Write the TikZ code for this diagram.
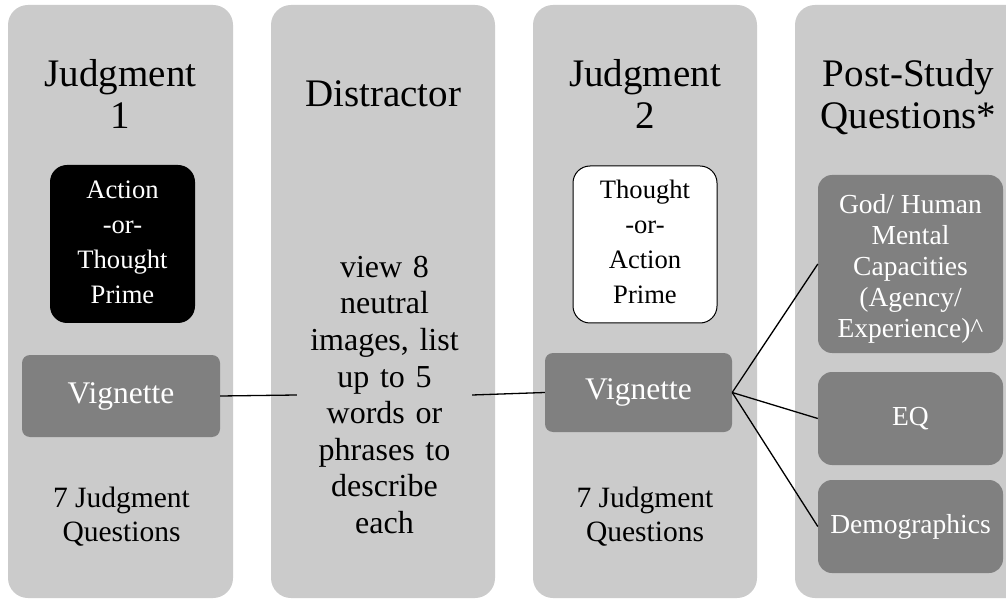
\documentclass[tikz,border=0pt]{standalone}
\usepackage{fontspec}
\setmainfont{Liberation Serif}
\definecolor{colbg}{HTML}{CBCBCB}
\definecolor{boxgrey}{HTML}{808080}
\tikzset{
  col/.style={fill=colbg, draw=none, rounded corners=20pt, inner sep=0pt, minimum height=593pt},
  head/.style={font=\fontsize{39}{42}\selectfont, align=center, inner sep=0pt},
  greybox/.style={fill=boxgrey, draw=none, text=white, rounded corners=8pt, inner sep=0pt, align=center},
  blackbox/.style={fill=black, draw=none, text=white, rounded corners=17pt, inner sep=0pt, align=center, font=\fontsize{26.6}{35}\selectfont},
  whitebox/.style={fill=white, draw=black, line width=1pt, text=black, rounded corners=17pt, inner sep=0pt, align=center, font=\fontsize{26.6}{35}\selectfont},
  vig/.style={greybox, font=\fontsize{31.5}{36}\selectfont},
  pbox/.style={greybox, rounded corners=14pt, font=\fontsize{27.5}{31}\selectfont, minimum width=185pt},
  qtext/.style={font=\fontsize{29.5}{34}\selectfont, align=center, inner sep=0pt},
  dtext/.style={font=\fontsize{32}{36.6}\selectfont, align=center, text width=175pt, inner sep=0pt},
  conn/.style={draw=black, line width=1.3pt}
}
\begin{document}
\begin{tikzpicture}[x=1pt,y=-1pt]
\useasboundingbox (0,0) rectangle (1006,601);
\fill[white] (0,0) rectangle (1006,601);
\clip (0,0) rectangle (1006,601);
% columns
\node[col, minimum width=225pt] (c1) at (120.5,301.5) {};
\node[col, minimum width=224pt] (c2) at (383,301.5) {};
\node[col, minimum width=224pt] (c3) at (645,301.5) {};
\node[col, minimum width=231pt] (c4) at (910.5,301.5) {};
% headings
\node[head] (h1) at (120.5,93.5) {Judgment\\1};
\node[head] (h2) at (383,94) {Distractor};
\node[head] (h3) at (645,93.5) {Judgment\\2};
\node[head] (h4) at (908.5,97) {Post-Study\\Questions*};
% column 1
\node[blackbox, minimum width=145pt, minimum height=158pt] (p1) at (122.5,244) {\strut Action\\-or-\\Thought\\Prime\strut};
\node[vig, minimum width=198pt, minimum height=82pt] (v1) at (121,396) {Vignette};
\node[qtext] (q1) at (121.5,517) {7 Judgment\\Questions};
% column 2
\node[dtext] (d) at (384.5,395) {view 8\\neutral\\images, list\\up to 5\\words or\\phrases to\\describe\\each};
% column 3
\node[whitebox, minimum width=144pt, minimum height=157pt] (p2) at (645,244.5) {\strut Thought\\-or-\\Action\\Prime\strut};
\node[vig, minimum width=187pt, minimum height=79pt] (v2) at (638.5,392.5) {Vignette};
\node[qtext] (q2) at (645,517) {7 Judgment\\Questions};
% column 4
\node[pbox, minimum height=178pt] (b1) at (910.5,264) {\rule{0pt}{28pt}God/ Human\\Mental\\Capacities\\(Agency/\\Experience)\^{}};
\node[pbox, minimum height=93pt] (b2) at (910.5,418.5) {EQ};
\node[pbox, minimum height=93pt] (b3) at (910.5,526.5) {Demographics};
% connectors
\draw[conn] (v1.east) -- (d.west);
\draw[conn] (d.east) -- (v2.west);
\draw[conn] (v2.east) -- (b1.west);
\draw[conn] (v2.east) -- (b2.west);
\draw[conn] (v2.east) -- (b3.west);
\end{tikzpicture}
\end{document}
